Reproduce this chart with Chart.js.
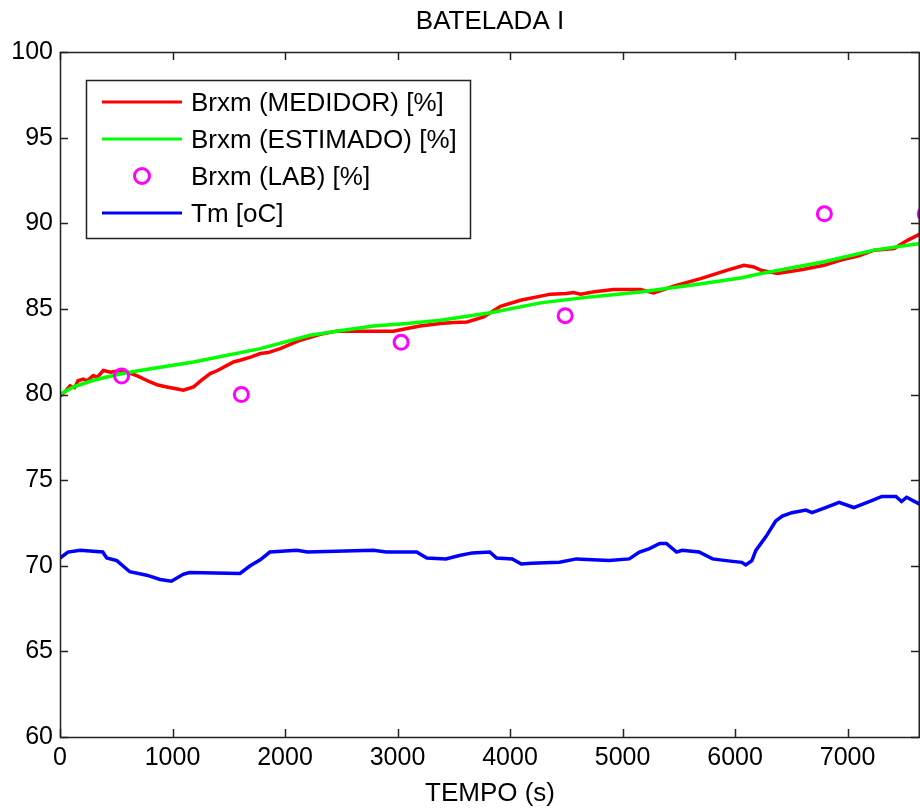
<!DOCTYPE html>
<html>
<head>
<meta charset="utf-8">
<title>BATELADA I</title>
<script src="https://cdn.jsdelivr.net/npm/chart.js@4.4.0/dist/chart.umd.min.js"></script>
<style>
  html, body { margin: 0; padding: 0; background: #fff; }
  #wrap { width: 920px; height: 810px; }
</style>
</head>
<body>
<div id="wrap"><canvas id="batelada" width="920" height="810"></canvas></div>
<script>
// values (time in s)
const xTicks = [0, 1000, 2000, 3000, 4000, 5000, 6000, 7000];
const yTicks = [60, 65, 70, 75, 80, 85, 90, 95, 100];

// Brxm (MEDIDOR) [%]
const medidorTime = [0, 50, 89, 130, 160, 207, 240, 296, 330, 385, 450, 534, 600, 682, 801, 870, 949, 1020, 1097, 1186, 1250, 1335, 1400, 1542, 1600, 1700, 1780, 1850, 1957, 2135, 2313, 2462, 2669, 2963, 3085, 3200, 3381, 3500, 3618, 3766, 3915, 4093, 4360, 4500, 4564, 4626, 4750, 4920, 5160, 5275, 5454, 5694, 5932, 6079, 6166, 6228, 6377, 6600, 6791, 6940, 7100, 7236, 7414, 7533, 7652];
const medidorBrx  = [79.9, 80.2, 80.5, 80.4, 80.8, 80.9, 80.8, 81.1, 81.0, 81.4, 81.3, 81.4, 81.3, 81.1, 80.73, 80.55, 80.44, 80.35, 80.25, 80.44, 80.8, 81.22, 81.4, 81.9, 82.0, 82.2, 82.39, 82.45, 82.68, 83.17, 83.52, 83.7, 83.7, 83.7, 83.85, 84.0, 84.14, 84.2, 84.24, 84.53, 85.15, 85.5, 85.86, 85.9, 85.95, 85.86, 86.0, 86.13, 86.13, 85.93, 86.32, 86.77, 87.26, 87.55, 87.45, 87.26, 87.07, 87.3, 87.55, 87.85, 88.1, 88.43, 88.53, 89.0, 89.4];

// Brxm (ESTIMADO) [%]
const estimadoTime = [0, 118, 296, 534, 682, 1186, 1780, 2224, 2518, 2785, 3085, 3381, 3826, 4270, 4710, 5160, 5605, 6050, 6257, 6791, 7236, 7652];
const estimadoBrx  = [80.0, 80.44, 80.83, 81.2, 81.37, 81.9, 82.68, 83.46, 83.75, 84.0, 84.15, 84.33, 84.77, 85.35, 85.7, 85.99, 86.38, 86.8, 87.1, 87.75, 88.43, 88.82];

// Brxm (LAB) [%]
const labTime = [547, 1612, 3032, 4490, 6794, 7690];
const labBrx  = [81.08, 80.0, 83.05, 84.6, 90.55, 90.55];

// Tm [oC]
const tmTime = [0, 71, 180, 380, 415, 505, 620, 770, 890, 990, 1095, 1150, 1600, 1690, 1780, 1865, 2105, 2200, 2785, 2900, 3170, 3260, 3430, 3550, 3665, 3820, 3880, 4020, 4100, 4190, 4440, 4590, 4880, 5060, 5150, 5240, 5330, 5390, 5480, 5530, 5680, 5800, 5920, 6060, 6095, 6150, 6185, 6275, 6360, 6420, 6505, 6630, 6685, 6805, 6925, 7055, 7215, 7305, 7430, 7480, 7525, 7640];
const tmTemp = [70.45, 70.8, 70.9, 70.8, 70.45, 70.3, 69.65, 69.45, 69.2, 69.1, 69.5, 69.6, 69.55, 70.0, 70.35, 70.8, 70.9, 70.8, 70.9, 70.8, 70.8, 70.45, 70.4, 70.6, 70.75, 70.8, 70.45, 70.4, 70.1, 70.15, 70.2, 70.4, 70.3, 70.4, 70.8, 71.0, 71.3, 71.3, 70.8, 70.9, 70.8, 70.4, 70.3, 70.2, 70.05, 70.3, 70.9, 71.7, 72.6, 72.9, 73.1, 73.25, 73.1, 73.4, 73.7, 73.4, 73.8, 74.05, 74.05, 73.75, 74.0, 73.6];

function pts(xs, ys) {
  return xs.map((x, i) => ({ x: x, y: ys[i] }));
}

const FONT = '"Liberation Sans", Arial, sans-serif';

// matlab-like box with inward ticks + legend inside the axes
const matlabAxes = {
  id: 'matlabAxes',
  afterDraw(chart) {
    const ctx = chart.ctx;
    const a = chart.chartArea;
    const xs = chart.scales.x, ys = chart.scales.y;
    const tl = 8;
    ctx.save();
    ctx.strokeStyle = '#222';
    ctx.lineWidth = 1.5;
    ctx.beginPath();
    xs.ticks.forEach(t => {
      const px = Math.round(xs.getPixelForValue(t.value)) + 0.5;
      ctx.moveTo(px, a.bottom); ctx.lineTo(px, a.bottom - tl);
      ctx.moveTo(px, a.top); ctx.lineTo(px, a.top + tl);
    });
    ys.ticks.forEach(t => {
      const py = Math.round(ys.getPixelForValue(t.value)) + 0.5;
      ctx.moveTo(a.left, py); ctx.lineTo(a.left + tl, py);
      ctx.moveTo(a.right - 1, py); ctx.lineTo(a.right - 1 - tl, py);
    });
    ctx.stroke();
    ctx.strokeRect(a.left + 0.5, a.top + 0.5, a.right - a.left - 1.25, a.bottom - a.top);

    // legend
    const lx = a.left + 26, ly = a.top + 28, lw = 384, lh = 158;
    ctx.fillStyle = '#fff';
    ctx.fillRect(lx, ly, lw, lh);
    ctx.lineWidth = 1.5;
    ctx.strokeRect(lx + 0.5, ly + 0.5, lw, lh);
    const order = [0, 1, 2, 3];
    ctx.font = '26px ' + FONT;
    ctx.textBaseline = 'middle';
    ctx.textAlign = 'left';
    order.forEach((di, i) => {
      const ds = chart.data.datasets[di];
      const cy = ly + 22 + i * 37;
      if (ds.showLine === false) {
        ctx.beginPath();
        ctx.lineWidth = 3;
        ctx.strokeStyle = ds.pointBorderColor;
        ctx.arc(lx + 56, cy, 7.5, 0, Math.PI * 2);
        ctx.stroke();
      } else {
        ctx.beginPath();
        ctx.lineWidth = 3;
        ctx.strokeStyle = ds.borderColor;
        ctx.moveTo(lx + 16, cy); ctx.lineTo(lx + 96, cy);
        ctx.stroke();
      }
      ctx.fillStyle = '#000';
      ctx.fillText(ds.label, lx + 105, cy + 2);
    });
    ctx.restore();
  }
};

new Chart(document.getElementById('batelada'), {
  type: 'line',
  data: {
    datasets: [
      {
        label: 'Brxm (MEDIDOR) [%]',
        data: pts(medidorTime, medidorBrx),
        borderColor: '#ff0000',
        borderWidth: 3.5,
        pointRadius: 0,
        order: 2
      },
      {
        label: 'Brxm (ESTIMADO) [%]',
        data: pts(estimadoTime, estimadoBrx),
        borderColor: '#00ff00',
        borderWidth: 3.5,
        pointRadius: 0,
        order: 1
      },
      {
        label: 'Brxm (LAB) [%]',
        data: pts(labTime, labBrx),
        showLine: false,
        pointStyle: 'circle',
        pointRadius: 7,
        pointBorderWidth: 3,
        pointBorderColor: '#ff00ff',
        pointBackgroundColor: 'rgba(0,0,0,0)',
        clip: false,
        order: 0
      },
      {
        label: 'Tm [oC]',
        data: pts(tmTime, tmTemp),
        borderColor: '#0000ff',
        borderWidth: 3.5,
        pointRadius: 0,
        order: 3
      }
    ]
  },
  options: {
    responsive: false,
    animation: false,
    devicePixelRatio: 1,
    layout: { padding: 0, autoPadding: false },
    plugins: {
      legend: { display: false },
      tooltip: { enabled: false },
      title: {
        display: true,
        text: 'BATELADA I',
        fullSize: false,
        color: '#000',
        font: { family: FONT, size: 26, weight: 'normal', lineHeight: 1.2 },
        padding: { top: 6, bottom: 14.8 }
      }
    },
    scales: {
      x: {
        type: 'linear',
        min: 0,
        max: 7644,
        grid: { display: false, drawTicks: false },
        border: { display: false },
        afterBuildTicks: s => { s.ticks = xTicks.map(v => ({ value: v })); },
        afterFit: s => { s.height = 73; s.paddingLeft = 0; s.paddingRight = 0; },
        ticks: {
          color: '#000',
          padding: 6,
          maxRotation: 0,
          font: { family: FONT, size: 25 },
          callback: v => String(v)
        },
        title: {
          display: true,
          text: 'TEMPO (s)',
          color: '#000',
          font: { family: FONT, size: 26, lineHeight: 1.2 },
          padding: { top: 0, bottom: 1 }
        }
      },
      y: {
        min: 60,
        max: 100,
        grid: { display: false, drawTicks: false },
        border: { display: false },
        afterBuildTicks: s => { s.ticks = yTicks.map(v => ({ value: v })); },
        afterFit: s => { s.width = 60; s.paddingTop = 0; s.paddingBottom = 0; },
        ticks: {
          color: '#000',
          padding: 7,
          font: { family: FONT, size: 25 },
          callback: v => String(v)
        }
      }
    }
  },
  plugins: [matlabAxes]
});
</script>
</body>
</html>
